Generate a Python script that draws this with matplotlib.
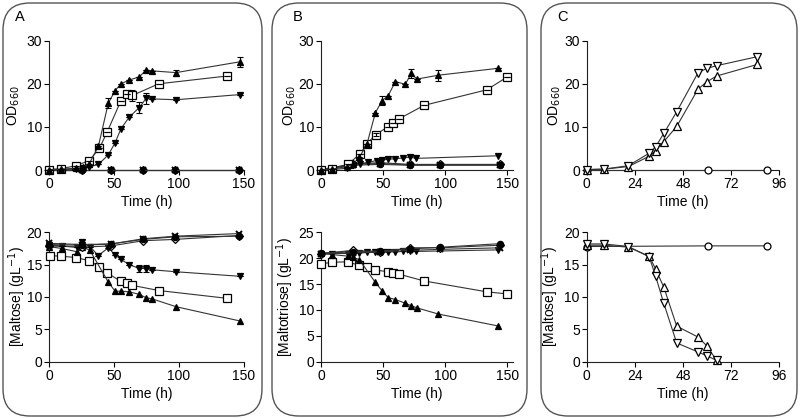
"""
Growth (OD660) and sugar uptake for panels A, B and C
"""

import matplotlib.pyplot as plt
from matplotlib.patches import FancyBboxPatch

plt.rcParams['font.family'] = ['Liberation Sans', 'DejaVu Sans']
plt.rcParams['font.size'] = 10

# ---------------- panel A, OD660 ----------------
A_OD_UP_T = [0, 9, 21, 26, 31, 38, 45.6, 50.8, 55.4, 61.8, 69.5, 74.6, 79.5, 97.7, 146.7]
A_OD_UP = [0.1, 0.2, 0.4, 0.6, 1.5, 5.5, 15.5, 18.4, 20.0, 20.9, 21.6, 23.2, 23.0, 22.6, 25.1]
A_OD_UP_ERR = [0, 0, 0, 0, 0, 0, 1.2, 0, 0, 0, 0, 0, 0, 0.7, 1.2]
A_OD_SQ_T = [0, 9, 20.8, 31, 38.7, 44.9, 55.2, 59.7, 64.1, 84.4, 136.7]
A_OD_SQ = [0.1, 0.3, 1.0, 2.2, 5.0, 8.9, 16.0, 17.6, 17.3, 20.0, 21.8]
A_OD_SQ_ERR = [0, 0, 0, 0, 0, 0, 0, 0, 1.3, 0, 0]
A_OD_DN_T = [0, 9, 21, 26, 31, 38, 45.6, 50.8, 55.4, 61.8, 69.5, 74.6, 79.5, 97.7, 146.7]
A_OD_DN = [0.1, 0.1, 0.2, 0.4, 0.7, 1.3, 3.5, 6.3, 9.6, 12.3, 14.5, 16.6, 16.5, 16.3, 17.5]
A_OD_DN_ERR = [0, 0, 0, 0, 0, 0, 0, 0, 0, 0, 1.2, 1.2, 0, 0, 0]
A_FLAT_T = [0, 25, 48, 72.5, 97, 146]
A_OD_CI = [0.1, 0.1, 0.1, 0.1, 0.1, 0.1]
A_OD_DI = [0.1, 0.1, 0.1, 0.1, 0.1, 0.1]
A_OD_X = [0.1, 0.1, 0.1, 0.1, 0.1, 0.1]

# ---------------- panel A, maltose ----------------
A_S_UP_T = [0, 9.7, 21.3, 25.4, 31.5, 45.6, 50.8, 55.4, 61.8, 69.5, 74.6, 79.5, 97.7, 146.7]
A_S_UP = [17.8, 17.5, 17.0, 17.8, 17.2, 12.3, 10.9, 10.9, 10.8, 10.4, 9.9, 9.7, 8.5, 6.3]
A_S_DN_T = [0, 9.7, 21.3, 25.4, 31.5, 37.9, 45.6, 50.8, 55.4, 61.8, 69.5, 74.6, 79.5, 97.7, 146.7]
A_S_DN = [18.0, 17.9, 17.7, 18.5, 17.8, 16.4, 17.6, 16.5, 15.8, 15.0, 14.4, 14.4, 14.2, 13.9, 13.2]
A_S_DN_ERR = [0, 0, 0, 0, 0, 0, 0, 0, 0, 0, 0.5, 0.6, 0, 0, 0]
A_S_SQ_T = [0.8, 9.3, 20.8, 31, 38.7, 44.9, 55.4, 59.7, 64.1, 84.4, 136.7]
A_S_SQ = [16.4, 16.3, 16.1, 15.6, 14.7, 13.7, 12.4, 12.2, 11.8, 11.0, 9.8]
A_S_CI = [18.1, 18.0, 18.2, 18.9, 19.3, 19.4]
A_S_DI = [17.9, 17.7, 17.9, 18.7, 18.9, 19.5]
A_S_X = [18.3, 18.1, 18.2, 19.0, 19.4, 19.8]

# ---------------- panel B, OD660 ----------------
B_OD_UP_T = [0, 9, 21, 25.5, 31, 37, 43.8, 49.2, 54, 59.9, 67.9, 72.7, 77.3, 94.6, 142.7]
B_OD_UP = [0.1, 0.2, 0.8, 1.3, 3.0, 6.0, 13.3, 16.1, 17.2, 20.5, 19.9, 22.4, 21.1, 22.0, 23.6]
B_OD_UP_ERR = [0, 0, 0, 0, 0, 0, 0, 1.0, 0, 0, 0, 1.0, 0, 1.3, 0]
B_OD_SQ_T = [0, 9, 21.5, 31.4, 36.8, 44, 53.7, 58.2, 63, 83, 133.4, 149.5]
B_OD_SQ = [0.1, 0.3, 1.3, 3.7, 6.0, 8.2, 10.0, 10.9, 11.9, 15.0, 18.6, 21.5]
B_OD_SQ_ERR = [0, 0, 0, 0, 0, 0.4, 0, 0, 0, 0, 0, 0]
B_OD_DN_T = [0, 9, 21, 26, 31.4, 38, 44.8, 49, 54, 59.6, 66.3, 71.7, 76.5, 142.8]
B_OD_DN = [0.1, 0.1, 0.4, 1.1, 1.4, 1.8, 2.2, 2.3, 2.5, 2.6, 2.8, 3.0, 2.7, 3.3]
B_FLAT_T = [0, 25.5, 47.5, 71.6, 95.8, 144]
B_OD_CI = [0.1, 1.3, 1.5, 1.2, 1.2, 1.2]
B_OD_DI = [0.1, 1.4, 1.7, 1.3, 1.3, 1.3]
B_OD_X = [0.1, 1.1, 1.3, 1.1, 1.1, 1.1]

# ---------------- panel B, maltotriose ----------------
B_S_SQ_T = [0, 8.6, 21.5, 30.9, 36.8, 43.5, 53.7, 58.2, 63, 83, 133.4, 149.5]
B_S_SQ = [18.9, 19.2, 19.3, 18.6, 18.2, 17.7, 17.4, 17.2, 16.9, 15.6, 13.5, 13.1]
B_S_UP_T = [0, 8.6, 21.5, 25.5, 30.9, 43.8, 49.2, 54, 59.9, 67.9, 72.7, 77.3, 94.6, 142.7]
B_S_UP = [21.0, 20.7, 20.4, 20.2, 19.7, 15.3, 13.7, 12.4, 12.0, 11.3, 10.8, 10.4, 9.2, 6.9]
B_S_DN_T = [0, 8.6, 21.5, 25.5, 30.9, 37, 43.8, 49.2, 54, 59.6, 66.3, 71.7, 76.5, 142.8]
B_S_DN = [20.8, 20.9, 20.9, 21.0, 21.0, 21.1, 21.1, 21.1, 21.2, 21.2, 21.3, 21.3, 21.3, 21.6]
B_S_CI = [21.0, 21.2, 21.4, 21.8, 22.1, 22.8]
B_S_DI = [20.9, 21.5, 21.2, 22.0, 22.0, 22.5]
B_S_X = [20.8, 21.0, 21.2, 21.5, 21.7, 22.0]

# ---------------- panel C ----------------
C_T = [0, 8.6, 20.8, 31.2, 34.4, 38.5, 44.9, 55.6, 60.1, 64.8, 85.2]
C_OD_DN = [0.1, 0.2, 1.0, 3.9, 5.4, 8.5, 13.5, 22.6, 23.6, 24.2, 26.3]
C_OD_UP = [0.1, 0.2, 0.8, 3.2, 4.5, 6.6, 10.1, 18.8, 20.5, 21.8, 24.5]
C_CI_T = [0, 60.6, 90.2]
C_OD_CI = [0.1, 0.1, 0.1]
C_S_T = [0, 8.6, 20.8, 31.2, 34.4, 38.5, 44.9, 55.6, 60.1, 64.8]
C_S_DN = [18.2, 18.2, 17.8, 16.2, 13.2, 9.0, 2.9, 1.5, 0.9, 0.2]
C_S_UP = [18.0, 18.0, 17.7, 16.3, 14.3, 11.5, 5.5, 3.8, 2.4, 0.2]
C_S_CI = [17.8, 17.9, 17.9]

LINE = '#333333'
STYLES = {
    'up': dict(marker='^', mfc='black', ms=4.5),
    'dn': dict(marker='v', mfc='black', ms=4.5),
    'sq': dict(marker='s', mfc='white', ms=5.3),
    'ci': dict(marker='o', mfc='black', ms=4.5),
    'di': dict(marker='D', mfc='white', ms=4),
    'x': dict(marker='x', mfc='black', ms=5, mew=1.4),
    'upo': dict(marker='^', mfc='white', ms=5.5),
    'dno': dict(marker='v', mfc='white', ms=5.5),
    'cio': dict(marker='o', mfc='white', ms=5),
}


def series(ax, t, y, kind, err=None):
    st = dict(mew=0.9, mec='black')
    st.update(STYLES[kind])
    ax.plot(t, y, color=LINE, lw=0.8, clip_on=False, zorder=3, **st)
    if err is not None:
        ax.errorbar(t, y, yerr=err, fmt='none', ecolor='black', elinewidth=0.8,
                    capsize=2.5, capthick=0.8, zorder=4, clip_on=False)


def style(ax, xmax, xticks, ymax, yticks, ylabel, lx):
    ax.set_xlim(0, xmax)
    ax.set_ylim(0, ymax)
    ax.set_xticks(xticks)
    ax.set_yticks(yticks)
    for s in ['top', 'right']:
        ax.spines[s].set_visible(False)
    for s in ['left', 'bottom']:
        ax.spines[s].set_linewidth(0.8)
        ax.spines[s].set_color('#222222')
    ax.tick_params(direction='out', length=3.5, width=0.8, labelsize=10, pad=1.5)
    ax.set_xlabel('Time (h)', fontsize=10, labelpad=3)
    ax.set_ylabel(ylabel, fontsize=10)
    ax.yaxis.set_label_coords(lx, 0.5)
    ax.patch.set_alpha(0)


fig = plt.figure(figsize=(8, 4.18), dpi=100)

# rounded frames, drawn in inches so corners stay circular
for x0, x1 in [(0.03, 2.62), (2.72, 5.27), (5.41, 7.97)]:
    fig.patches.append(FancyBboxPatch(
        (x0, 0.02), x1 - x0, 4.13, boxstyle='round,pad=0,rounding_size=0.27',
        transform=fig.dpi_scale_trans, fc='none', ec='#555555', lw=1.0))

top_b, top_h = 0.5933, 0.3093
bot_b, bot_h = 0.1347, 0.3096

axA1 = fig.add_axes([0.06125, top_b, 0.24375, top_h])
axA2 = fig.add_axes([0.06125, bot_b, 0.24375, bot_h])
axB1 = fig.add_axes([0.40125, top_b, 0.2406, top_h])
axB2 = fig.add_axes([0.40125, bot_b, 0.2406, bot_h])
axC1 = fig.add_axes([0.7334, top_b, 0.2404, top_h])
axC2 = fig.add_axes([0.7334, bot_b, 0.2404, bot_h])

# A
series(axA1, A_FLAT_T, A_OD_DI, 'di')
series(axA1, A_FLAT_T, A_OD_CI, 'ci')
series(axA1, A_FLAT_T, A_OD_X, 'x')
series(axA1, A_OD_DN_T, A_OD_DN, 'dn', A_OD_DN_ERR)
series(axA1, A_OD_SQ_T, A_OD_SQ, 'sq', A_OD_SQ_ERR)
series(axA1, A_OD_UP_T, A_OD_UP, 'up', A_OD_UP_ERR)
style(axA1, 150, [0, 50, 100, 150], 30, [0, 10, 20, 30], 'OD$_{660}$', -0.14)

series(axA2, A_S_SQ_T, A_S_SQ, 'sq')
series(axA2, A_S_UP_T, A_S_UP, 'up')
series(axA2, A_S_DN_T, A_S_DN, 'dn', A_S_DN_ERR)
series(axA2, A_FLAT_T, A_S_DI, 'di')
series(axA2, A_FLAT_T, A_S_X, 'x')
series(axA2, A_FLAT_T, A_S_CI, 'ci')
style(axA2, 150, [0, 50, 100, 150], 20, [0, 5, 10, 15, 20],
      '[Maltose] (gL$^{-1}$)', -0.11)

# B
series(axB1, B_FLAT_T, B_OD_DI, 'di')
series(axB1, B_FLAT_T, B_OD_X, 'x')
series(axB1, B_FLAT_T, B_OD_CI, 'ci')
series(axB1, B_OD_DN_T, B_OD_DN, 'dn')
series(axB1, B_OD_SQ_T, B_OD_SQ, 'sq', B_OD_SQ_ERR)
series(axB1, B_OD_UP_T, B_OD_UP, 'up', B_OD_UP_ERR)
style(axB1, 155, [0, 50, 100, 150], 30, [0, 10, 20, 30], 'OD$_{660}$', -0.12)

series(axB2, B_S_SQ_T, B_S_SQ, 'sq')
series(axB2, B_S_UP_T, B_S_UP, 'up')
series(axB2, B_S_DN_T, B_S_DN, 'dn')
series(axB2, B_FLAT_T, B_S_DI, 'di')
series(axB2, B_FLAT_T, B_S_X, 'x')
series(axB2, B_FLAT_T, B_S_CI, 'ci')
style(axB2, 155, [0, 50, 100, 150], 25, [0, 5, 10, 15, 20, 25],
      '[Maltotriose] (gL$^{-1}$)', -0.13)

# C
series(axC1, C_CI_T, C_OD_CI, 'cio')
series(axC1, C_T, C_OD_UP, 'upo')
series(axC1, C_T, C_OD_DN, 'dno')
style(axC1, 96, [0, 24, 48, 72, 96], 30, [0, 10, 20, 30], 'OD$_{660}$', -0.123)

series(axC2, C_CI_T, C_S_CI, 'cio')
series(axC2, C_S_T, C_S_UP, 'upo')
series(axC2, C_S_T, C_S_DN, 'dno')
style(axC2, 96, [0, 24, 48, 72, 96], 20, [0, 5, 10, 15, 20],
      '[Maltose] (gL$^{-1}$)', -0.133)

for lbl, x in [('A', 20), ('B', 298), ('C', 562)]:
    fig.text(x / 800, 1 - 17 / 418, lbl, fontsize=10.5, ha='center', va='center')

fig.savefig('out.png', dpi=100)
